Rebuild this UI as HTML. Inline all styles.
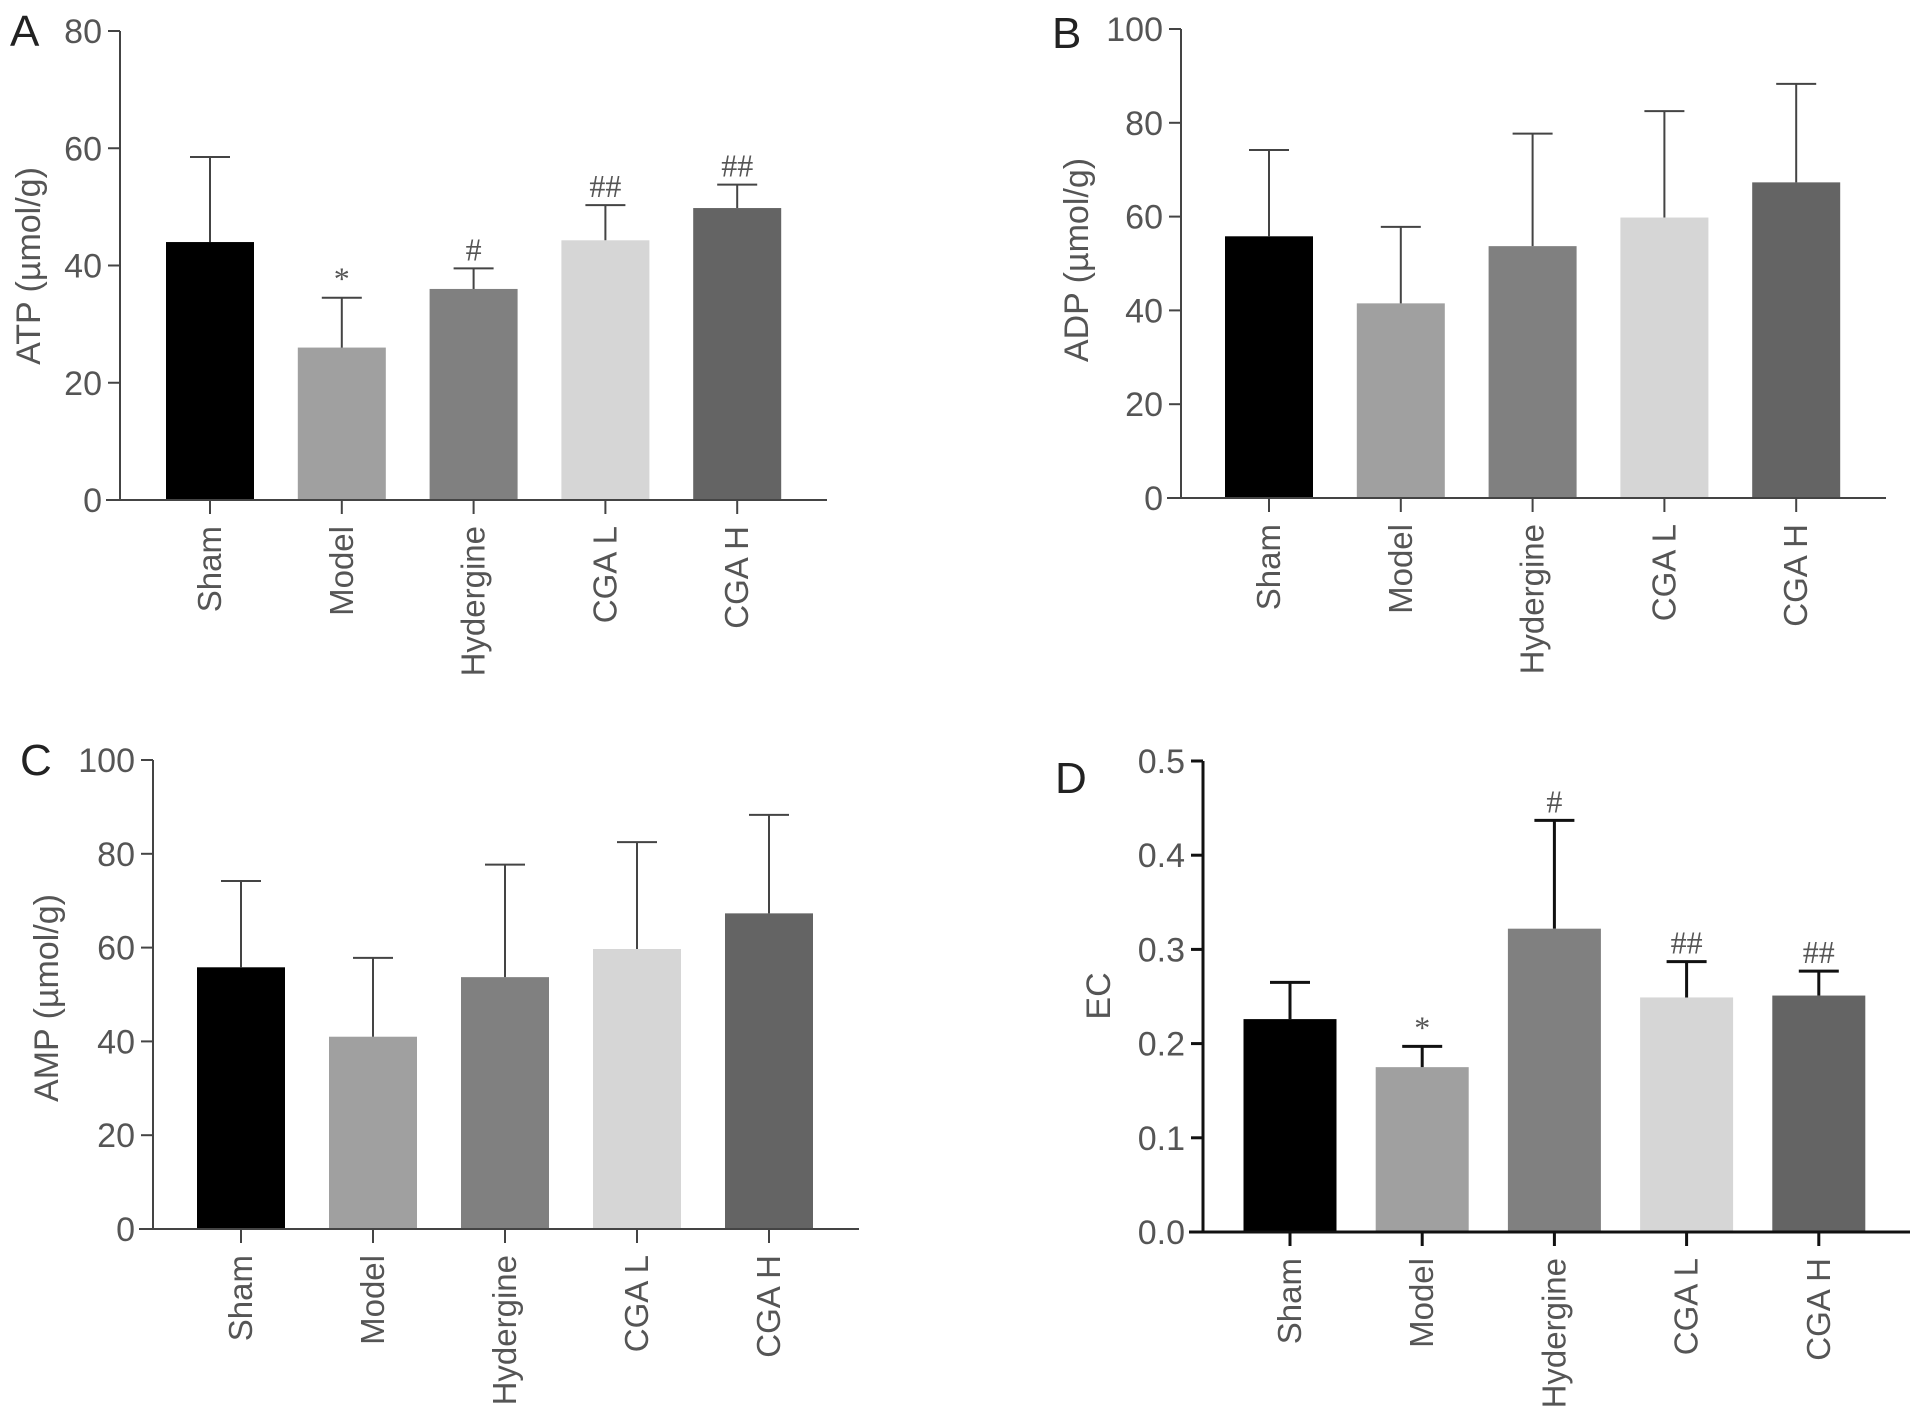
<!DOCTYPE html>
<html><head><meta charset="utf-8">
<style>
html,body{margin:0;padding:0;background:#fff;}
svg{display:block;font-family:"Liberation Sans",sans-serif;}
</style></head>
<body>
<svg id="fig" width="1913" height="1417" viewBox="0 0 1913 1417" xmlns="http://www.w3.org/2000/svg"></svg>
<script>
const categories = ["Sham","Model","Hydergine","CGA L","CGA H"];
const barColors = ["#000000","#a0a0a0","#808080","#d6d6d6","#646464"];
const atpMeans = [44, 26, 36, 44.3, 49.8];
const atpUpper = [58.5, 34.5, 39.5, 50.3, 53.8];
const atpMarks = ["", "*", "#", "##", "##"];
const atpTicks = [0, 20, 40, 60, 80];
const adpMeans = [55.8, 41.5, 53.7, 59.8, 67.3];
const adpUpper = [74.2, 57.8, 77.7, 82.5, 88.3];
const adpTicks = [0, 20, 40, 60, 80, 100];
const ampMeans = [55.8, 41, 53.7, 59.7, 67.3];
const ampUpper = [74.2, 57.8, 77.7, 82.5, 88.3];
const ampTicks = [0, 20, 40, 60, 80, 100];
const ecMeans = [0.226, 0.175, 0.322, 0.249, 0.251];
const ecUpper = [0.265, 0.197, 0.437, 0.287, 0.277];
const ecMarks = ["", "*", "#", "##", "##"];
const ecTicks = ["0.0", "0.1", "0.2", "0.3", "0.4", "0.5"];

const NS = "http://www.w3.org/2000/svg";
const svg = document.getElementById("fig");
function mk(tag, attrs, parent, text){
  const e = document.createElementNS(NS, tag);
  for (const k in attrs) e.setAttribute(k, attrs[k]);
  if (text !== undefined) e.textContent = text;
  (parent || svg).appendChild(e);
  return e;
}

function panel(cfg){
  const g = mk("g", {});
  
  
  const ymax = cfg.ymax;
  const y = v => cfg.y0 - (v / ymax) * (cfg.y0 - cfg.yTop);
  const x = i => cfg.c0 + i * cfg.step;
  const axc = cfg.axisColor, aw = cfg.axisWidth;
  cfg.means.forEach((m, i) => {
    const r = mk("rect", {x: x(i) - cfg.bw/2, y: y(m), width: cfg.bw, height: cfg.y0 - y(m), fill: barColors[i]}, g);
    
    
    const e = mk("path", {d: `M${x(i)} ${y(m)} V${y(cfg.upper[i])} M${x(i)-20} ${y(cfg.upper[i])} H${x(i)+20}`, stroke: axc, "stroke-width": cfg.errWidth, fill: "none"}, g);
    
    
    if (cfg.marks && cfg.marks[i]) {
      const t = mk("text", {x: x(i), y: y(cfg.upper[i]) - 8, "text-anchor": "middle", "font-size": 32, fill: "#555", "font-family": "Liberation Serif, serif"}, g, cfg.marks[i]);
      
      
    }
    const tk = mk("line", {x1: x(i), x2: x(i), y1: cfg.y0, y2: cfg.y0 + 14, stroke: axc, "stroke-width": aw}, g);
    
    
    const lbl = mk("text", {transform: `translate(${x(i)+11},${cfg.y0 + 26}) rotate(-90)`, "text-anchor": "end", "font-size": 33, fill: "#555"}, g, categories[i]);
    
    
  });
  const ya = mk("line", {x1: cfg.ax, x2: cfg.ax, y1: cfg.yTop, y2: cfg.y0, stroke: axc, "stroke-width": aw}, g);
  
  
  const xa = mk("line", {x1: cfg.ax - 14, x2: cfg.xEnd, y1: cfg.y0, y2: cfg.y0, stroke: axc, "stroke-width": aw}, g);
  
  
  cfg.ticks.forEach(t => {
    const v = parseFloat(t);
    const tk = mk("line", {x1: cfg.ax - 12, x2: cfg.ax, y1: y(v), y2: y(v), stroke: axc, "stroke-width": aw}, g);
    
    
    const tl = mk("text", {x: cfg.ax - 18, y: y(v) + 12, "text-anchor": "end", "font-size": 34, fill: "#555"}, g, String(t));
    
    
  });
  const yt = mk("text", {transform: `translate(${cfg.titleX},${cfg.titleY}) rotate(-90)`, "text-anchor": "middle", "font-size": 34, fill: "#555"}, g, cfg.title);
  
  
  const pl = mk("text", {x: cfg.letterX, y: cfg.letterY, "font-size": 44, fill: "#222"}, g, cfg.letter);
  
  
}

panel({id:"atp", letter:"A", letterX:10, letterY:46, ax:120, xEnd:827, y0:500, yTop:31, ymax:80,
  c0:210, step:131.8, bw:88, means:atpMeans, upper:atpUpper, marks:atpMarks, ticks:atpTicks,
  title:"ATP (µmol/g)", titleX:40, titleY:266, axisColor:"#444", axisWidth:2, errWidth:2});
panel({id:"adp", letter:"B", letterX:1052, letterY:48, ax:1181, xEnd:1886, y0:498, yTop:29, ymax:100,
  c0:1269, step:131.8, bw:88, means:adpMeans, upper:adpUpper, marks:null, ticks:adpTicks,
  title:"ADP (µmol/g)", titleX:1088, titleY:260, axisColor:"#444", axisWidth:2, errWidth:2});
panel({id:"amp", letter:"C", letterX:20, letterY:775, ax:153, xEnd:859, y0:1229, yTop:760, ymax:100,
  c0:241, step:132, bw:88, means:ampMeans, upper:ampUpper, marks:null, ticks:ampTicks,
  title:"AMP (µmol/g)", titleX:58, titleY:998, axisColor:"#444", axisWidth:2, errWidth:2});
panel({id:"ec", letter:"D", letterX:1055, letterY:793, ax:1203, xEnd:1910, y0:1232, yTop:761, ymax:0.5,
  c0:1290, step:132.2, bw:93, means:ecMeans, upper:ecUpper, marks:ecMarks, ticks:ecTicks,
  title:"EC", titleX:1110, titleY:996, axisColor:"#111", axisWidth:3, errWidth:3});
</script>
</body></html>
